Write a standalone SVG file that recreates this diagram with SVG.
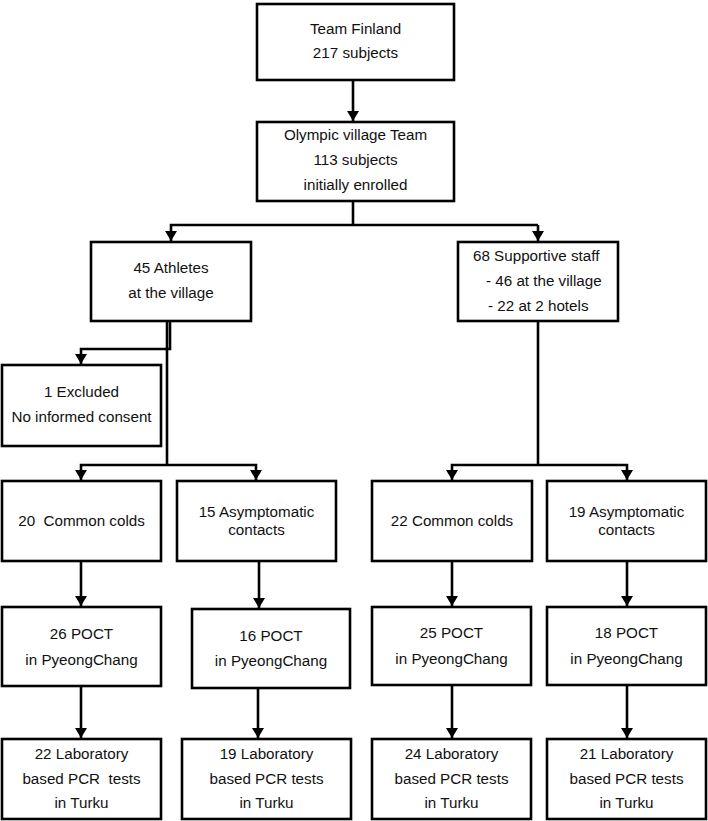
<svg xmlns="http://www.w3.org/2000/svg" width="708" height="821" viewBox="0 0 708 821">
<style>
.box{fill:#fff;stroke:#000;stroke-width:2.6}
.t{font-family:"Liberation Sans",Arial,sans-serif;font-size:15.2px;fill:#111;text-anchor:middle}
.ts{font-family:"Liberation Sans",Arial,sans-serif;font-size:15.2px;fill:#111}
.c{fill:none;stroke:#000;stroke-width:2.6}
</style>
<defs>
<marker id="ah" viewBox="0 0 10 12" refX="10" refY="6" markerWidth="10" markerHeight="12" markerUnits="userSpaceOnUse" orient="auto">
<path d="M0,0 L10,6 L0,12 Z" fill="#000"/>
</marker>
</defs>
<g id="connectors">
<line class="c" x1="353" y1="80" x2="353" y2="121" marker-end="url(#ah)"/>
<polyline class="c" points="353,201 353,225"/>
<polyline class="c" points="538,225 171,225 171,241" marker-end="url(#ah)"/>
<polyline class="c" points="538,225 538,241" marker-end="url(#ah)"/>
<polyline class="c" points="170,321 170,349 81,349 81,364" marker-end="url(#ah)"/>
<polyline class="c" points="167,321 167,465"/>
<polyline class="c" points="167,465 81,465 81,480" marker-end="url(#ah)"/>
<polyline class="c" points="167,465 256,465 256,480" marker-end="url(#ah)"/>
<polyline class="c" points="538,321 538,465"/>
<polyline class="c" points="538,465 452,465 452,480" marker-end="url(#ah)"/>
<polyline class="c" points="538,465 627,465 627,480" marker-end="url(#ah)"/>
<line class="c" x1="81" y1="561" x2="81" y2="606" marker-end="url(#ah)"/>
<line class="c" x1="259" y1="561" x2="259" y2="608" marker-end="url(#ah)"/>
<line class="c" x1="452" y1="561" x2="452" y2="606" marker-end="url(#ah)"/>
<line class="c" x1="627" y1="561" x2="627" y2="606" marker-end="url(#ah)"/>
<line class="c" x1="81" y1="686" x2="81" y2="738" marker-end="url(#ah)"/>
<line class="c" x1="258" y1="688" x2="258" y2="738" marker-end="url(#ah)"/>
<line class="c" x1="452" y1="685" x2="452" y2="738" marker-end="url(#ah)"/>
<line class="c" x1="627" y1="685" x2="627" y2="738" marker-end="url(#ah)"/>
</g>
<g id="team-finland">
<rect class="box" x="257" y="4" width="197" height="76"/>
<text class="t" x="355.5" y="34">Team Finland</text>
<text class="t" x="355.5" y="58">217 subjects</text>
</g>
<g id="olympic-village">
<rect class="box" x="257" y="122" width="197" height="79"/>
<text class="t" x="355.5" y="140">Olympic village Team</text>
<text class="t" x="355.5" y="165">113 subjects</text>
<text class="t" x="355.5" y="190">initially enrolled</text>
</g>
<g id="athletes">
<rect class="box" x="91" y="242" width="160" height="79"/>
<text class="t" x="171" y="273">45 Athletes</text>
<text class="t" x="171" y="298">at the village</text>
</g>
<g id="staff">
<rect class="box" x="458" y="242" width="160" height="79"/>
<text class="ts" x="473" y="261">68 Supportive staff</text>
<text class="ts" x="486" y="286">- 46 at the village</text>
<text class="ts" x="488" y="311">- 22 at 2 hotels</text>
</g>
<g id="excluded">
<rect class="box" x="2" y="365" width="159" height="81"/>
<text class="t" x="81.5" y="397">1 Excluded</text>
<text class="t" x="81.5" y="422">No informed consent</text>
</g>
<g id="colds-athletes">
<rect class="box" x="2" y="481" width="159" height="80"/>
<text class="t" x="81.5" y="526">20&#160; Common colds</text>
</g>
<g id="contacts-athletes">
<rect class="box" x="177" y="481" width="159" height="80"/>
<text class="t" x="256.5" y="517">15 Asymptomatic</text>
<text class="t" x="256.5" y="535">contacts</text>
</g>
<g id="colds-staff">
<rect class="box" x="372" y="481" width="160" height="80"/>
<text class="t" x="452" y="526">22 Common colds</text>
</g>
<g id="contacts-staff">
<rect class="box" x="547" y="481" width="159" height="80"/>
<text class="t" x="626.5" y="517">19 Asymptomatic</text>
<text class="t" x="626.5" y="535">contacts</text>
</g>
<g id="poct-1">
<rect class="box" x="2" y="607" width="159" height="79"/>
<text class="t" x="81.5" y="639">26 POCT</text>
<text class="t" x="81.5" y="665">in PyeongChang</text>
</g>
<g id="poct-2">
<rect class="box" x="192" y="609" width="158" height="79"/>
<text class="t" x="271" y="641">16 POCT</text>
<text class="t" x="271" y="666">in PyeongChang</text>
</g>
<g id="poct-3">
<rect class="box" x="372" y="607" width="159" height="78"/>
<text class="t" x="451.5" y="638">25 POCT</text>
<text class="t" x="451.5" y="664">in PyeongChang</text>
</g>
<g id="poct-4">
<rect class="box" x="547" y="607" width="159" height="78"/>
<text class="t" x="626.5" y="638">18 POCT</text>
<text class="t" x="626.5" y="664">in PyeongChang</text>
</g>
<g id="lab-1">
<rect class="box" x="2" y="739" width="159" height="80"/>
<text class="t" x="81.5" y="759">22 Laboratory</text>
<text class="t" x="81.5" y="784">based PCR&#160; tests</text>
<text class="t" x="81.5" y="808">in Turku</text>
</g>
<g id="lab-2">
<rect class="box" x="182" y="739" width="169" height="80"/>
<text class="t" x="266.5" y="759">19 Laboratory</text>
<text class="t" x="266.5" y="784">based PCR tests</text>
<text class="t" x="266.5" y="808">in Turku</text>
</g>
<g id="lab-3">
<rect class="box" x="372" y="739" width="159" height="80"/>
<text class="t" x="451.5" y="759">24 Laboratory</text>
<text class="t" x="451.5" y="784">based PCR tests</text>
<text class="t" x="451.5" y="808">in Turku</text>
</g>
<g id="lab-4">
<rect class="box" x="547" y="739" width="159" height="80"/>
<text class="t" x="626.5" y="759">21 Laboratory</text>
<text class="t" x="626.5" y="784">based PCR tests</text>
<text class="t" x="626.5" y="808">in Turku</text>
</g>
</svg>
